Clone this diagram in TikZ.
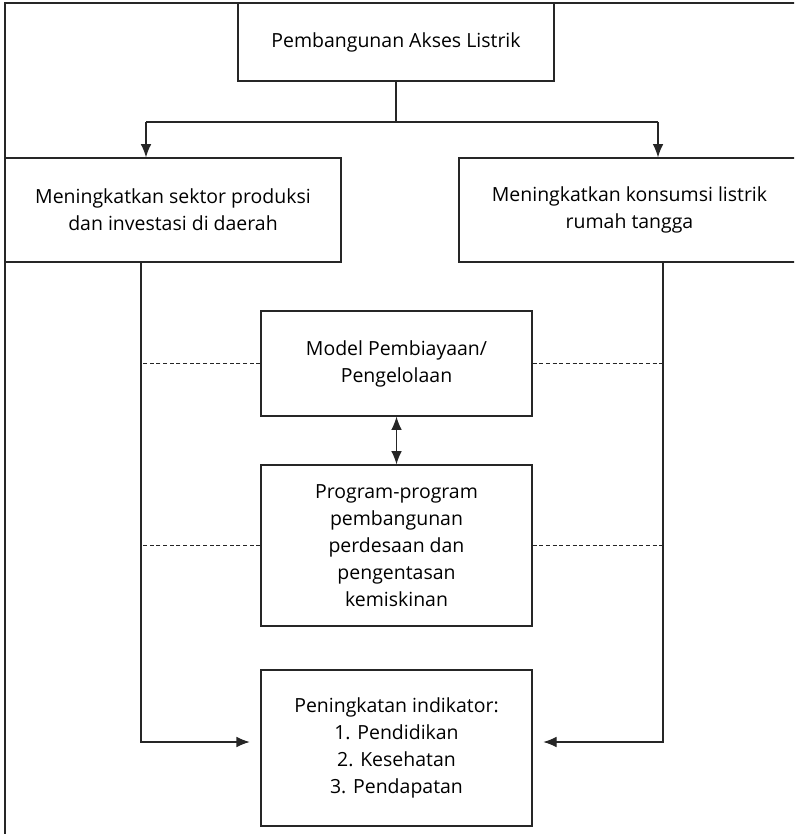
\documentclass[tikz,border=0pt]{standalone}
\usepackage{fontspec}
\setmainfont{Open Sans}
\usetikzlibrary{arrows.meta}

\begin{document}
\begin{tikzpicture}[x=0.75pt,y=-0.75pt,
  font=\fontsize{14.6}{20.2}\selectfont,
  box/.style={draw=black!85,line width=0.9pt,align=center,inner sep=0pt},
  link/.style={draw=black!85,line width=0.9pt},
  dots/.style={draw=black!85,line width=0.6pt,dash pattern=on 3pt off 2pt}]

\useasboundingbox (0,0) rectangle (794,834);
\clip (0,0) rectangle (794,834);

% frame
\draw[link] (5,834) -- (5,3) -- (800,3);

\node[box,minimum width=237pt,minimum height=58.5pt] (akses) at (396,42) {Pembangunan Akses Listrik};
\node[box,minimum width=252pt,minimum height=78pt] (produksi) at (173,210) {Meningkatkan sektor produksi\\dan investasi di daerah};
\node[box,minimum width=255.75pt,minimum height=78pt] (konsumsi) at (629.5,210) {Meningkatkan konsumsi listrik\\rumah tangga};
\node[box,minimum width=203.25pt,minimum height=78.75pt] (model) at (396.5,363.5) {Model Pembiayaan/\\Pengelolaan};
\node[box,minimum width=203.25pt,minimum height=120.75pt] (program) at (396.5,545.5) {Program-program\\pembangunan\\perdesaan dan\\pengentasan\\kemiskinan};
\node[box,minimum width=203.25pt,minimum height=117pt] (indikator) at (396.5,748) {Peningkatan indikator:\\1. Pendidikan\\2. Kesehatan\\3. Pendapatan};

\coordinate (sl) at (146,122);
\coordinate (sr) at (658,122);
\coordinate (ll) at (141,742);
\coordinate (lr) at (663,742);

\draw[link] (akses.south) -- (akses.south |- sl);
\draw[link] (sl) -- (sr);
\draw[link,-{Latex[length=10pt,width=8pt]}] (sl) -- (sl |- produksi.north);
\draw[link,-{Latex[length=10pt,width=8pt]}] (sr) -- (sr |- konsumsi.north);

\draw[link,-{Latex[length=10pt,width=8pt]},shorten >=8pt] (ll |- produksi.south) -- (ll) -- (ll -| indikator.west);
\draw[link,-{Latex[length=10pt,width=8pt]},shorten >=8pt] (lr |- konsumsi.south) -- (lr) -- (lr -| indikator.east);

\draw[link,{Latex[length=10pt,width=8pt]}-{Latex[length=10pt,width=8pt]}] (model) -- (program);

\draw[dots] (model.west) -- (model.west -| ll);
\draw[dots] (model.east) -- (model.east -| lr);
\draw[dots] (program.west) -- (program.west -| ll);
\draw[dots] (program.east) -- (program.east -| lr);

\end{tikzpicture}
\end{document}
